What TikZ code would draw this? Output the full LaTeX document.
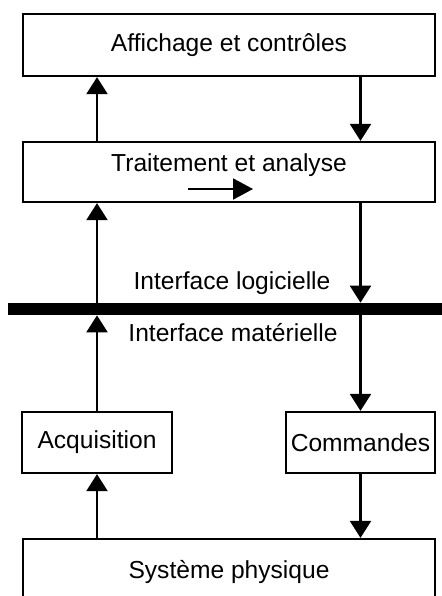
\documentclass[tikz,border=0pt]{standalone}
\usepackage{fontspec}
\setmainfont{Liberation Sans}
\usetikzlibrary{arrows.meta}

\begin{document}
\begin{tikzpicture}[x=0.02cm, y=-0.02cm,
    bloc/.style={draw, line width=1.3pt, inner sep=1pt, font=\fontsize{14}{17}\selectfont},
    legende/.style={inner sep=1pt, font=\fontsize{14}{17}\selectfont},
    fleche/.style={line width=1.3pt, -{Triangle[length=0.34cm, width=0.42cm]}}]
    \useasboundingbox (0,0) rectangle (442,596);

    % Partie logicielle
    \node[bloc, minimum width=8.24cm, minimum height=1.24cm] (aff) at (229,45) {Affichage et contrôles};
    \node[bloc, minimum width=8.24cm, minimum height=1.2cm] (trait) at (229,172) {};
    \node[legende] (traitTxt) at (229,165) {Traitement et analyse};
    % Petite fleche dans le traitement
    \coordinate (sensA) at (188,189);
    \coordinate (sensB) at (253,189);
    \draw[line width=1.1pt, -{Triangle[length=0.4cm, width=0.42cm]}] (sensA) -- (sensB);

    % Separation logiciel / materiel
    \node[fill=black, inner sep=0pt, minimum width=8.84cm, minimum height=0.24cm] (bar) at (229,309) {};
    \node[legende] (logi) at (232,283) {Interface logicielle};
    \node[legende] (mat) at (233,333) {Interface matérielle};

    % Partie materielle
    \node[bloc, minimum width=3cm, minimum height=1.22cm] (acq) at (97,442.5) {Acquisition};
    \node[bloc, minimum width=2.98cm, minimum height=1.22cm] (cmd) at (360.5,442.5) {Commandes};
    \node[bloc, minimum width=8.24cm, minimum height=1.32cm] (sys) at (229,572) {Système physique};

    % Flux montant (gauche)
    \draw[fleche] (acq.north |- trait.north) -- (acq.north |- aff.south);
    \draw[fleche] (acq.north |- bar.north) -- (acq.north |- trait.south);
    \draw[fleche] (acq.north) -- (acq.north |- bar.south);
    \draw[fleche] (acq.north |- sys.north) -- (acq.south);

    % Flux descendant (droite)
    \draw[fleche] (cmd.north |- aff.south) -- (cmd.north |- trait.north);
    \draw[fleche] (cmd.north |- trait.south) -- (cmd.north |- bar.north);
    \draw[fleche] (cmd.north |- bar.south) -- (cmd.north);
    \draw[fleche] (cmd.south) -- (cmd.south |- sys.north);

\end{tikzpicture}
\end{document}
